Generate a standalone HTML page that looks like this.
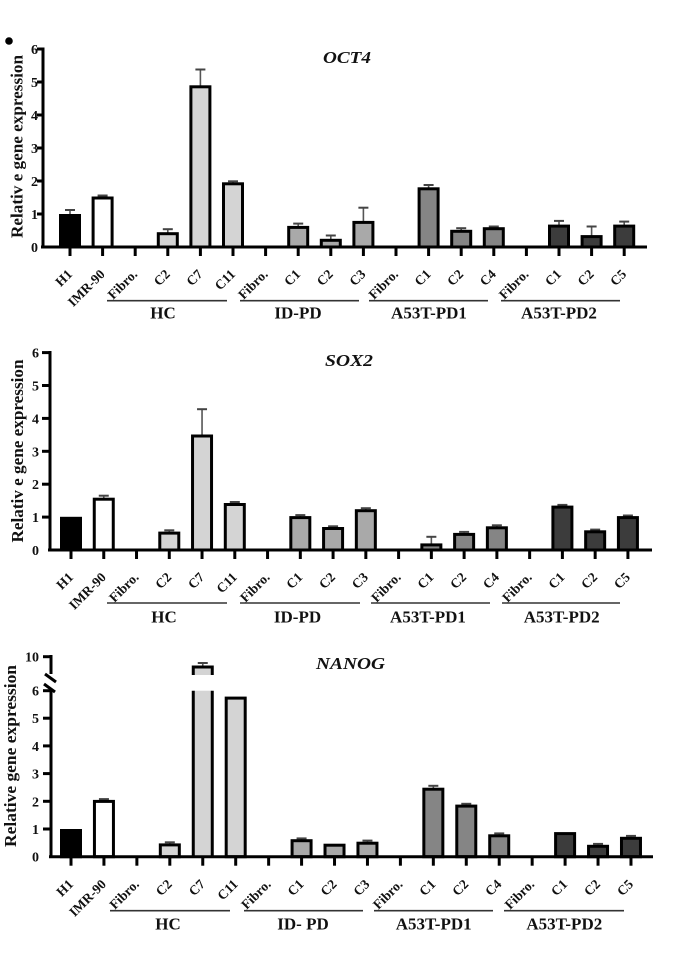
<!DOCTYPE html>
<html>
<head>
<meta charset="utf-8">
<style>
  html,body{margin:0;padding:0;background:#fff;}
  svg{display:block;}
  text{font-family:"Liberation Serif","Times New Roman",serif;font-weight:bold;fill:#111;}
  .yt{font-size:14px;text-anchor:end;}
  .xt{font-size:13.5px;text-anchor:end;}
  .gl{font-size:17px;text-anchor:middle;}
  .yl{font-size:16.5px;text-anchor:middle;}
  .ti{font-size:17px;font-style:italic;}
  .bar{stroke:#000;stroke-width:3;}
  .ax{stroke:#000;stroke-width:3;fill:none;}
  .tk{stroke:#000;stroke-width:3;}
  .eb{stroke:#555;stroke-width:1.6;}
  .cap{stroke:#444;stroke-width:2;}
  .grp{stroke:#333;stroke-width:1.6;}
  .hc{fill:#d4d4d4;} .id{fill:#a9a9a9;} .p1{fill:#858585;} .p2{fill:#3c3c3c;}
</style>
</head>
<body>
<svg width="682" height="961" viewBox="0 0 682 961" xmlns="http://www.w3.org/2000/svg">
<rect width="682" height="961" fill="#fff"/>
<circle cx="9" cy="41" r="3.8" fill="#000"/>

<!-- ================= PANEL 1 : OCT4 ================= -->
<text class="ti" x="323" y="63" textLength="48" lengthAdjust="spacingAndGlyphs">OCT4</text>
<text class="yl" transform="translate(22.5,146.5) rotate(-90)" textLength="183" lengthAdjust="spacingAndGlyphs">Relativ e gene expression</text>
<g>
<line class="eb" x1="70" y1="210" x2="70" y2="215"/><line class="cap" x1="65" y1="210" x2="75" y2="210"/>
<line class="eb" x1="102.6" y1="195.5" x2="102.6" y2="198"/><line class="cap" x1="97.6" y1="195.5" x2="107.6" y2="195.5"/>
<line class="eb" x1="167.8" y1="229.2" x2="167.8" y2="233"/><line class="cap" x1="162.8" y1="229.2" x2="172.8" y2="229.2"/>
<line class="eb" x1="200.4" y1="69.5" x2="200.4" y2="86"/><line class="cap" x1="195.4" y1="69.5" x2="205.4" y2="69.5"/>
<line class="eb" x1="233" y1="181.3" x2="233" y2="183"/><line class="cap" x1="228" y1="181.3" x2="238" y2="181.3"/>
<line class="eb" x1="298.2" y1="223.6" x2="298.2" y2="227"/><line class="cap" x1="293.2" y1="223.6" x2="303.2" y2="223.6"/>
<line class="eb" x1="330.8" y1="235.5" x2="330.8" y2="240"/><line class="cap" x1="325.8" y1="235.5" x2="335.8" y2="235.5"/>
<line class="eb" x1="363.4" y1="207.7" x2="363.4" y2="222"/><line class="cap" x1="358.4" y1="207.7" x2="368.4" y2="207.7"/>
<line class="eb" x1="428.6" y1="185" x2="428.6" y2="188"/><line class="cap" x1="423.6" y1="185" x2="433.6" y2="185"/>
<line class="eb" x1="461.2" y1="228.2" x2="461.2" y2="231"/><line class="cap" x1="456.2" y1="228.2" x2="466.2" y2="228.2"/>
<line class="eb" x1="493.8" y1="226.5" x2="493.8" y2="228"/><line class="cap" x1="488.8" y1="226.5" x2="498.8" y2="226.5"/>
<line class="eb" x1="559" y1="220.9" x2="559" y2="226"/><line class="cap" x1="554" y1="220.9" x2="564" y2="220.9"/>
<line class="eb" x1="591.6" y1="226.5" x2="591.6" y2="236"/><line class="cap" x1="586.6" y1="226.5" x2="596.6" y2="226.5"/>
<line class="eb" x1="624.2" y1="221.6" x2="624.2" y2="226"/><line class="cap" x1="619.2" y1="221.6" x2="629.2" y2="221.6"/>
</g>
<g>
<rect class="bar" x="60.5" y="215.5" width="19" height="31.5" fill="#000"/>
<rect class="bar" x="93.1" y="198" width="19" height="49" fill="#fff"/>
<rect class="bar hc" x="158.3" y="233.7" width="19" height="13.3"/>
<rect class="bar hc" x="190.9" y="86.8" width="19" height="160.2"/>
<rect class="bar hc" x="223.5" y="183.8" width="19" height="63.2"/>
<rect class="bar id" x="288.7" y="227.4" width="19" height="19.6"/>
<rect class="bar id" x="321.3" y="240.3" width="19" height="6.7"/>
<rect class="bar id" x="353.9" y="222.4" width="19" height="24.6"/>
<rect class="bar p1" x="419.1" y="188.8" width="19" height="58.2"/>
<rect class="bar p1" x="451.7" y="231.3" width="19" height="15.7"/>
<rect class="bar p1" x="484.3" y="228.7" width="19" height="18.3"/>
<rect class="bar p2" x="549.5" y="226.1" width="19" height="20.9"/>
<rect class="bar p2" x="582.1" y="236.6" width="19" height="10.4"/>
<rect class="bar p2" x="614.7" y="226.1" width="19" height="20.9"/>
</g>
<line class="ax" x1="43" y1="47.5" x2="43" y2="248"/>
<line class="ax" x1="41" y1="247" x2="647" y2="247"/>
<g class="ax">
<line x1="37" y1="49" x2="43" y2="49"/><line x1="37" y1="82" x2="43" y2="82"/><line x1="37" y1="115" x2="43" y2="115"/>
<line x1="37" y1="148" x2="43" y2="148"/><line x1="37" y1="181" x2="43" y2="181"/><line x1="37" y1="214" x2="43" y2="214"/>
</g>
<text class="yt" x="38" y="54">6</text><text class="yt" x="38" y="87">5</text><text class="yt" x="38" y="120">4</text>
<text class="yt" x="38" y="153">3</text><text class="yt" x="38" y="186">2</text><text class="yt" x="38" y="219">1</text>
<text class="yt" x="38" y="252">0</text>
<g class="tk">
<line x1="70" y1="247" x2="70" y2="256"/><line x1="102.6" y1="247" x2="102.6" y2="256"/><line x1="135.2" y1="247" x2="135.2" y2="256"/>
<line x1="167.8" y1="247" x2="167.8" y2="256"/><line x1="200.4" y1="247" x2="200.4" y2="256"/><line x1="233" y1="247" x2="233" y2="256"/>
<line x1="265.6" y1="247" x2="265.6" y2="256"/><line x1="298.2" y1="247" x2="298.2" y2="256"/><line x1="330.8" y1="247" x2="330.8" y2="256"/>
<line x1="363.4" y1="247" x2="363.4" y2="256"/><line x1="396" y1="247" x2="396" y2="256"/><line x1="428.6" y1="247" x2="428.6" y2="256"/>
<line x1="461.2" y1="247" x2="461.2" y2="256"/><line x1="493.8" y1="247" x2="493.8" y2="256"/><line x1="526.4" y1="247" x2="526.4" y2="256"/>
<line x1="559" y1="247" x2="559" y2="256"/><line x1="591.6" y1="247" x2="591.6" y2="256"/><line x1="624.2" y1="247" x2="624.2" y2="256"/>
</g>
<g>
<text class="xt" transform="translate(73,275) rotate(-45)">H1</text>
<text class="xt" transform="translate(105.6,275) rotate(-45)">IMR-90</text>
<text class="xt" transform="translate(138.2,275) rotate(-45)">Fibro.</text>
<text class="xt" transform="translate(170.8,275) rotate(-45)">C2</text>
<text class="xt" transform="translate(203.4,275) rotate(-45)">C7</text>
<text class="xt" transform="translate(236,275) rotate(-45)">C11</text>
<text class="xt" transform="translate(268.6,275) rotate(-45)">Fibro.</text>
<text class="xt" transform="translate(301.2,275) rotate(-45)">C1</text>
<text class="xt" transform="translate(333.8,275) rotate(-45)">C2</text>
<text class="xt" transform="translate(366.4,275) rotate(-45)">C3</text>
<text class="xt" transform="translate(399,275) rotate(-45)">Fibro.</text>
<text class="xt" transform="translate(431.6,275) rotate(-45)">C1</text>
<text class="xt" transform="translate(464.2,275) rotate(-45)">C2</text>
<text class="xt" transform="translate(496.8,275) rotate(-45)">C4</text>
<text class="xt" transform="translate(529.4,275) rotate(-45)">Fibro.</text>
<text class="xt" transform="translate(562,275) rotate(-45)">C1</text>
<text class="xt" transform="translate(594.6,275) rotate(-45)">C2</text>
<text class="xt" transform="translate(627.2,275) rotate(-45)">C5</text>
</g>
<g class="grp">
<line x1="107" y1="300.7" x2="227" y2="300.7"/><line x1="240" y1="300.7" x2="359" y2="300.7"/>
<line x1="369" y1="300.7" x2="488" y2="300.7"/><line x1="501" y1="300.7" x2="620" y2="300.7"/>
</g>
<text class="gl" x="163" y="318.5">HC</text>
<text class="gl" x="298" y="318.5">ID-PD</text>
<text class="gl" x="429" y="318.5">A53T-PD1</text>
<text class="gl" x="559" y="318.5">A53T-PD2</text>

<!-- ================= PANEL 2 : SOX2 ================= -->
<text class="ti" x="325" y="366" textLength="48" lengthAdjust="spacingAndGlyphs">SOX2</text>
<text class="yl" transform="translate(23,451) rotate(-90)" textLength="183" lengthAdjust="spacingAndGlyphs">Relativ e gene expression</text>
<g>
<line class="eb" x1="103.76" y1="495.7" x2="103.76" y2="499"/><line class="cap" x1="98.76" y1="495.7" x2="108.76" y2="495.7"/>
<line class="eb" x1="169.28" y1="530.3" x2="169.28" y2="532"/><line class="cap" x1="164.28" y1="530.3" x2="174.28" y2="530.3"/>
<line class="eb" x1="202.04" y1="409.2" x2="202.04" y2="435"/><line class="cap" x1="197.04" y1="409.2" x2="207.04" y2="409.2"/>
<line class="eb" x1="234.8" y1="502" x2="234.8" y2="504"/><line class="cap" x1="229.8" y1="502" x2="239.8" y2="502"/>
<line class="eb" x1="300.32" y1="515.1" x2="300.32" y2="517"/><line class="cap" x1="295.32" y1="515.1" x2="305.32" y2="515.1"/>
<line class="eb" x1="333.08" y1="526.3" x2="333.08" y2="528"/><line class="cap" x1="328.08" y1="526.3" x2="338.08" y2="526.3"/>
<line class="eb" x1="365.84" y1="508.2" x2="365.84" y2="510"/><line class="cap" x1="360.84" y1="508.2" x2="370.84" y2="508.2"/>
<line class="eb" x1="431.36" y1="536.8" x2="431.36" y2="544"/><line class="cap" x1="426.36" y1="536.8" x2="436.36" y2="536.8"/>
<line class="eb" x1="464.12" y1="531.9" x2="464.12" y2="534"/><line class="cap" x1="459.12" y1="531.9" x2="469.12" y2="531.9"/>
<line class="eb" x1="496.88" y1="525.3" x2="496.88" y2="527"/><line class="cap" x1="491.88" y1="525.3" x2="501.88" y2="525.3"/>
<line class="eb" x1="562.4" y1="504.9" x2="562.4" y2="506"/><line class="cap" x1="557.4" y1="504.9" x2="567.4" y2="504.9"/>
<line class="eb" x1="595.16" y1="529.6" x2="595.16" y2="531"/><line class="cap" x1="590.16" y1="529.6" x2="600.16" y2="529.6"/>
<line class="eb" x1="627.92" y1="515.5" x2="627.92" y2="517"/><line class="cap" x1="622.92" y1="515.5" x2="632.92" y2="515.5"/>
</g>
<g>
<rect class="bar" x="61.5" y="518.3" width="19" height="31.7" fill="#000"/>
<rect class="bar" x="94.26" y="499.2" width="19" height="50.8" fill="#fff"/>
<rect class="bar hc" x="159.78" y="533.1" width="19" height="16.9"/>
<rect class="bar hc" x="192.54" y="436" width="19" height="114"/>
<rect class="bar hc" x="225.3" y="504.5" width="19" height="45.5"/>
<rect class="bar id" x="290.82" y="517.6" width="19" height="32.4"/>
<rect class="bar id" x="323.58" y="528.5" width="19" height="21.5"/>
<rect class="bar id" x="356.34" y="510.7" width="19" height="39.3"/>
<rect class="bar p1" x="421.86" y="544.9" width="19" height="5.1"/>
<rect class="bar p1" x="454.62" y="534.4" width="19" height="15.6"/>
<rect class="bar p1" x="487.38" y="527.8" width="19" height="22.2"/>
<rect class="bar p2" x="552.9" y="507.1" width="19" height="42.9"/>
<rect class="bar p2" x="585.66" y="531.8" width="19" height="18.2"/>
<rect class="bar p2" x="618.42" y="517.6" width="19" height="32.4"/>
</g>
<line class="ax" x1="50" y1="351" x2="50" y2="551"/>
<line class="ax" x1="48" y1="550" x2="652" y2="550"/>
<g class="ax">
<line x1="42" y1="352.6" x2="50" y2="352.6"/><line x1="42" y1="385.5" x2="50" y2="385.5"/><line x1="42" y1="418.4" x2="50" y2="418.4"/>
<line x1="42" y1="451.3" x2="50" y2="451.3"/><line x1="42" y1="484.2" x2="50" y2="484.2"/><line x1="42" y1="517.1" x2="50" y2="517.1"/>
</g>
<text class="yt" x="39" y="357.6">6</text><text class="yt" x="39" y="390.5">5</text><text class="yt" x="39" y="423.4">4</text>
<text class="yt" x="39" y="456.3">3</text><text class="yt" x="39" y="489.2">2</text><text class="yt" x="39" y="522.1">1</text>
<text class="yt" x="39" y="555">0</text>
<g class="tk">
<line x1="71" y1="550" x2="71" y2="559"/><line x1="103.76" y1="550" x2="103.76" y2="559"/><line x1="136.52" y1="550" x2="136.52" y2="559"/>
<line x1="169.28" y1="550" x2="169.28" y2="559"/><line x1="202.04" y1="550" x2="202.04" y2="559"/><line x1="234.8" y1="550" x2="234.8" y2="559"/>
<line x1="267.56" y1="550" x2="267.56" y2="559"/><line x1="300.32" y1="550" x2="300.32" y2="559"/><line x1="333.08" y1="550" x2="333.08" y2="559"/>
<line x1="365.84" y1="550" x2="365.84" y2="559"/><line x1="398.6" y1="550" x2="398.6" y2="559"/><line x1="431.36" y1="550" x2="431.36" y2="559"/>
<line x1="464.12" y1="550" x2="464.12" y2="559"/><line x1="496.88" y1="550" x2="496.88" y2="559"/><line x1="529.64" y1="550" x2="529.64" y2="559"/>
<line x1="562.4" y1="550" x2="562.4" y2="559"/><line x1="595.16" y1="550" x2="595.16" y2="559"/><line x1="627.92" y1="550" x2="627.92" y2="559"/>
</g>
<g>
<text class="xt" transform="translate(74,578) rotate(-45)">H1</text>
<text class="xt" transform="translate(106.76,578) rotate(-45)">IMR-90</text>
<text class="xt" transform="translate(139.52,578) rotate(-45)">Fibro.</text>
<text class="xt" transform="translate(172.28,578) rotate(-45)">C2</text>
<text class="xt" transform="translate(205.04,578) rotate(-45)">C7</text>
<text class="xt" transform="translate(237.8,578) rotate(-45)">C11</text>
<text class="xt" transform="translate(270.56,578) rotate(-45)">Fibro.</text>
<text class="xt" transform="translate(303.32,578) rotate(-45)">C1</text>
<text class="xt" transform="translate(336.08,578) rotate(-45)">C2</text>
<text class="xt" transform="translate(368.84,578) rotate(-45)">C3</text>
<text class="xt" transform="translate(401.6,578) rotate(-45)">Fibro.</text>
<text class="xt" transform="translate(434.36,578) rotate(-45)">C1</text>
<text class="xt" transform="translate(467.12,578) rotate(-45)">C2</text>
<text class="xt" transform="translate(499.88,578) rotate(-45)">C4</text>
<text class="xt" transform="translate(532.64,578) rotate(-45)">Fibro.</text>
<text class="xt" transform="translate(565.4,578) rotate(-45)">C1</text>
<text class="xt" transform="translate(598.16,578) rotate(-45)">C2</text>
<text class="xt" transform="translate(630.92,578) rotate(-45)">C5</text>
</g>
<g class="grp">
<line x1="107" y1="603" x2="227" y2="603"/><line x1="240" y1="603" x2="360" y2="603"/>
<line x1="371" y1="603" x2="490" y2="603"/><line x1="502" y1="603" x2="620" y2="603"/>
</g>
<text class="gl" x="164" y="622.5">HC</text>
<text class="gl" x="297.5" y="622.5">ID-PD</text>
<text class="gl" x="428" y="622.5">A53T-PD1</text>
<text class="gl" x="561.7" y="622.5">A53T-PD2</text>

<!-- ================= PANEL 3 : NANOG ================= -->
<text class="ti" x="316" y="669" textLength="69" lengthAdjust="spacingAndGlyphs">NANOG</text>
<text class="yl" transform="translate(16,756) rotate(-90)" textLength="182" lengthAdjust="spacingAndGlyphs">Relative gene expression</text>
<g>
<line class="eb" x1="103.94" y1="799.1" x2="103.94" y2="801"/><line class="cap" x1="98.94" y1="799.1" x2="108.94" y2="799.1"/>
<line class="eb" x1="169.82" y1="842.3" x2="169.82" y2="844"/><line class="cap" x1="164.82" y1="842.3" x2="174.82" y2="842.3"/>
<line class="eb" x1="202.76" y1="663" x2="202.76" y2="667"/><line class="cap" x1="197.76" y1="663" x2="207.76" y2="663"/>
<line class="eb" x1="301.58" y1="838.4" x2="301.58" y2="840"/><line class="cap" x1="296.58" y1="838.4" x2="306.58" y2="838.4"/>
<line class="eb" x1="367.46" y1="840.6" x2="367.46" y2="842"/><line class="cap" x1="362.46" y1="840.6" x2="372.46" y2="840.6"/>
<line class="eb" x1="433.34" y1="785.8" x2="433.34" y2="788"/><line class="cap" x1="428.34" y1="785.8" x2="438.34" y2="785.8"/>
<line class="eb" x1="466.28" y1="803.8" x2="466.28" y2="805"/><line class="cap" x1="461.28" y1="803.8" x2="471.28" y2="803.8"/>
<line class="eb" x1="499.22" y1="833.4" x2="499.22" y2="835"/><line class="cap" x1="494.22" y1="833.4" x2="504.22" y2="833.4"/>
<line class="eb" x1="598.04" y1="843.9" x2="598.04" y2="845"/><line class="cap" x1="593.04" y1="843.9" x2="603.04" y2="843.9"/>
<line class="eb" x1="630.98" y1="835.9" x2="630.98" y2="837"/><line class="cap" x1="625.98" y1="835.9" x2="635.98" y2="835.9"/>
</g>
<g>
<rect class="bar" x="61.5" y="830.5" width="19" height="26.2" fill="#000"/>
<rect class="bar" x="94.44" y="801.4" width="19" height="55.3" fill="#fff"/>
<rect class="bar hc" x="160.32" y="844.9" width="19" height="11.8"/>
<rect x="193.26" y="667" width="19" height="8" class="hc"/>
<path d="M193.26,675 V667 H212.26 V675" class="ax"/>
<rect x="193.26" y="690.7" width="19" height="166" class="hc"/>
<path d="M193.26,690.7 V856.7 M212.26,690.7 V856.7" class="ax"/>
<rect class="bar hc" x="226.2" y="698.1" width="19" height="158.6"/>
<rect class="bar id" x="292.08" y="840.7" width="19" height="16"/>
<rect class="bar id" x="325.02" y="845.2" width="19" height="11.5"/>
<rect class="bar id" x="357.96" y="843.2" width="19" height="13.5"/>
<rect class="bar p1" x="423.84" y="789.2" width="19" height="67.5"/>
<rect class="bar p1" x="456.78" y="806.1" width="19" height="50.6"/>
<rect class="bar p1" x="489.72" y="835.8" width="19" height="20.9"/>
<rect class="bar p2" x="555.6" y="833.6" width="19" height="23.1"/>
<rect class="bar p2" x="588.54" y="846.3" width="19" height="10.4"/>
<rect class="bar p2" x="621.48" y="838.3" width="19" height="18.4"/>
</g>
<line class="ax" x1="51" y1="655" x2="51" y2="674"/>
<line class="ax" x1="51" y1="690" x2="51" y2="858"/>
<line class="ax" x1="45" y1="674" x2="56" y2="682"/>
<line class="ax" x1="44" y1="684" x2="55" y2="692"/>
<line class="ax" x1="49" y1="856.7" x2="653" y2="856.7"/>
<g class="ax">
<line x1="43" y1="656.7" x2="51" y2="656.7"/><line x1="43" y1="690.7" x2="51" y2="690.7"/><line x1="43" y1="718.2" x2="51" y2="718.2"/>
<line x1="43" y1="745.9" x2="51" y2="745.9"/><line x1="43" y1="773.6" x2="51" y2="773.6"/><line x1="43" y1="801.3" x2="51" y2="801.3"/>
<line x1="43" y1="829" x2="51" y2="829"/>
</g>
<text class="yt" x="39" y="661.7">10</text><text class="yt" x="39" y="695.7">6</text><text class="yt" x="39" y="723.2">5</text>
<text class="yt" x="39" y="750.9">4</text><text class="yt" x="39" y="778.6">3</text><text class="yt" x="39" y="806.3">2</text>
<text class="yt" x="39" y="834">1</text><text class="yt" x="39" y="861.7">0</text>
<g class="tk">
<line x1="71" y1="856.7" x2="71" y2="865.7"/><line x1="103.94" y1="856.7" x2="103.94" y2="865.7"/><line x1="136.88" y1="856.7" x2="136.88" y2="865.7"/>
<line x1="169.82" y1="856.7" x2="169.82" y2="865.7"/><line x1="202.76" y1="856.7" x2="202.76" y2="865.7"/><line x1="235.7" y1="856.7" x2="235.7" y2="865.7"/>
<line x1="268.64" y1="856.7" x2="268.64" y2="865.7"/><line x1="301.58" y1="856.7" x2="301.58" y2="865.7"/><line x1="334.52" y1="856.7" x2="334.52" y2="865.7"/>
<line x1="367.46" y1="856.7" x2="367.46" y2="865.7"/><line x1="400.4" y1="856.7" x2="400.4" y2="865.7"/><line x1="433.34" y1="856.7" x2="433.34" y2="865.7"/>
<line x1="466.28" y1="856.7" x2="466.28" y2="865.7"/><line x1="499.22" y1="856.7" x2="499.22" y2="865.7"/><line x1="532.16" y1="856.7" x2="532.16" y2="865.7"/>
<line x1="565.1" y1="856.7" x2="565.1" y2="865.7"/><line x1="598.04" y1="856.7" x2="598.04" y2="865.7"/><line x1="630.98" y1="856.7" x2="630.98" y2="865.7"/>
</g>
<g>
<text class="xt" transform="translate(74,885) rotate(-45)">H1</text>
<text class="xt" transform="translate(106.94,885) rotate(-45)">IMR-90</text>
<text class="xt" transform="translate(139.88,885) rotate(-45)">Fibro.</text>
<text class="xt" transform="translate(172.82,885) rotate(-45)">C2</text>
<text class="xt" transform="translate(205.76,885) rotate(-45)">C7</text>
<text class="xt" transform="translate(238.7,885) rotate(-45)">C11</text>
<text class="xt" transform="translate(271.64,885) rotate(-45)">Fibro.</text>
<text class="xt" transform="translate(304.58,885) rotate(-45)">C1</text>
<text class="xt" transform="translate(337.52,885) rotate(-45)">C2</text>
<text class="xt" transform="translate(370.46,885) rotate(-45)">C3</text>
<text class="xt" transform="translate(403.4,885) rotate(-45)">Fibro.</text>
<text class="xt" transform="translate(436.34,885) rotate(-45)">C1</text>
<text class="xt" transform="translate(469.28,885) rotate(-45)">C2</text>
<text class="xt" transform="translate(502.22,885) rotate(-45)">C4</text>
<text class="xt" transform="translate(535.16,885) rotate(-45)">Fibro.</text>
<text class="xt" transform="translate(568.1,885) rotate(-45)">C1</text>
<text class="xt" transform="translate(601.04,885) rotate(-45)">C2</text>
<text class="xt" transform="translate(633.98,885) rotate(-45)">C5</text>
</g>
<g class="grp">
<line x1="110" y1="910.7" x2="230" y2="910.7"/><line x1="244" y1="910.7" x2="363" y2="910.7"/>
<line x1="374" y1="910.7" x2="493" y2="910.7"/><line x1="504" y1="910.7" x2="624" y2="910.7"/>
</g>
<text class="gl" x="168" y="929.5">HC</text>
<text class="gl" x="303" y="929.5">ID- PD</text>
<text class="gl" x="433.7" y="929.5">A53T-PD1</text>
<text class="gl" x="564.3" y="929.5">A53T-PD2</text>
</svg>
</body>
</html>
